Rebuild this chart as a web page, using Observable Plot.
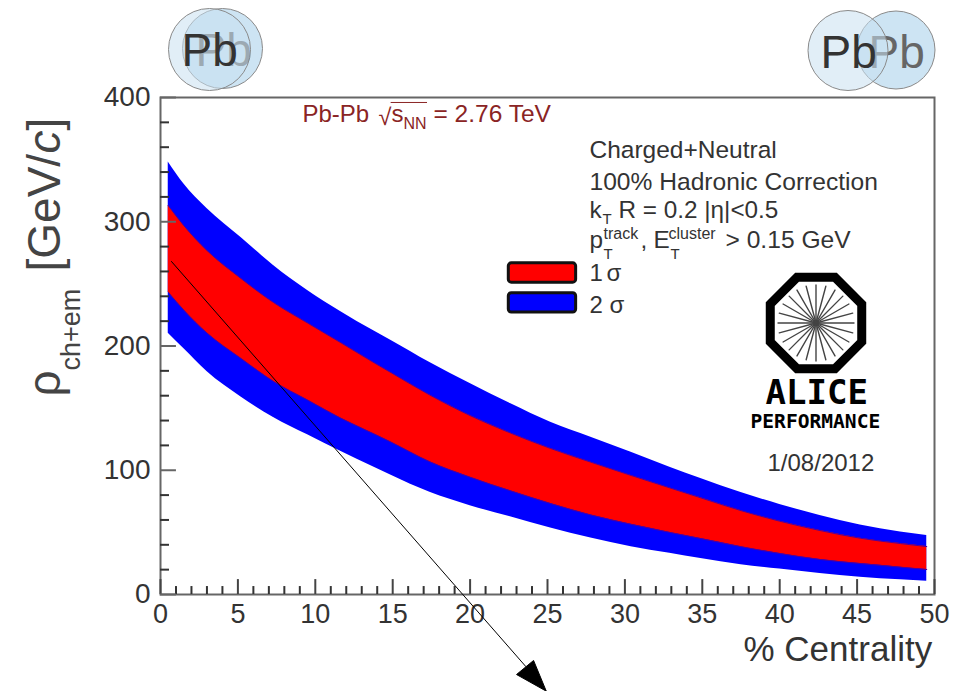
<!DOCTYPE html>
<html>
<head>
<meta charset="utf-8">
<script src="https://cdn.jsdelivr.net/npm/d3@7"></script>
<script src="https://cdn.jsdelivr.net/npm/@observablehq/plot@0.6"></script>
<style>
html,body{margin:0;padding:0;background:#fff;}
svg{display:block;overflow:visible;}
</style>
</head>
<body>
<div id="chart"></div>
<script>
// Centrality (%) and band edges of rho_ch+em (GeV/c)
const centrality = [0.5,1.5,3,5.2,7.3,9.5,11.6,13.8,14.9,17.4,20,22.6,25.2,27.8,30.4,32.9,34.9,37.5,40,42.6,45.2,47.8,49.5];
const sigma2Upper = [348,330.5,310.7,287.3,264.8,244.7,228,212,204.5,186.7,169.8,153.7,138.7,126.6,114.5,102.5,93.4,82,72.5,63.6,56,50.3,47.5];
const sigma1Upper = [313,297,276.9,254.3,235,218.5,203,186.5,178.5,160.5,144,130,117.5,106.5,95.8,85.8,77.8,67.5,59,51.5,45.3,41,38.6];
const sigma1Lower = [243.3,229,210.5,190,171.5,156.5,142.2,129.2,122.6,106.8,94.4,83.5,73.2,64,56.5,50,45,38.5,33,28.2,24.9,22,20.1];
const sigma2Lower = [210.3,198,179.5,159,142.5,128.5,115.5,102.5,96,82.3,71.5,62.5,53.5,45.5,38.5,33.2,29,24,20.5,16.9,13.9,11.8,10.7];

const xMajor = [0,5,10,15,20,25,30,35,40,45,50];
const xMinor = d3.range(0,51).filter(d => d % 5 !== 0);
const yMajor = [0,100,200,300,400];
const yMinor = d3.range(20,400,20).filter(d => d % 100 !== 0);

// Overlaid arrow, in chart units
const arrowX = [0.71,23.6];
const arrowY = [268,-58];
const headX = [24.92,23.0,24.1,24.92];
const headY = [-77.8,-64.4,-53.1,-77.8];

const spokes = d3.range(0,360,15);

const L = 160, T = 97;
const SANS = "Liberation Sans";
function label(s, px, py, size, o = {}) {
  return Plot.text([s], {text: d => d, frameAnchor: "top-left", dx: px - L, dy: py - T,
    lineAnchor: "bottom", textAnchor: "start", fontSize: size, fontFamily: SANS, fill: "#333", ...o});
}
function disc(px, py, r, fill, o = {}) {
  return Plot.dot([0], {frameAnchor: "top-left", dx: px - L, dy: py - T, r, fill, stroke: "#8a8a8a", strokeWidth: 1, ...o});
}
const octagon = {draw(c, size) {
  const r = Math.sqrt(size / Math.PI);
  for (let i = 0; i < 8; i++) {
    const a = Math.PI / 8 + i * Math.PI / 4;
    const x = r * Math.cos(a), y = r * Math.sin(a);
    if (i) c.lineTo(x, y); else c.moveTo(x, y);
  }
  c.closePath();
}};
const spokeShape = {draw(c, l) { c.moveTo(0, 0); c.lineTo(0, -l); }};
const RED = "#8a2424", INK = "#333";
const table = centrality.map((c, i) => ({c, u2: sigma2Upper[i], u1: sigma1Upper[i], l1: sigma1Lower[i], l2: sigma2Lower[i]}));
const CURVE = "monotone-x";

const plot = Plot.plot({
  width: 953, height: 691,
  marginLeft: L, marginRight: 19, marginTop: T, marginBottom: 97,
  style: {background: "#fff", fontFamily: SANS, fontSize: "27px", overflow: "visible"},
  x: {domain: [0, 50], axis: null},
  y: {domain: [0, 400], axis: null},
  marks: [
    // Bands
    Plot.areaY(table, {x: "c", y1: "l2", y2: "u2", fill: "#0000ff", curve: CURVE}),
    Plot.areaY(table, {x: "c", y1: "l1", y2: "u1", fill: "#ff0000", curve: CURVE}),
    Plot.line(table, {x: "c", y: "u1", stroke: "#50009a", strokeWidth: 1, curve: CURVE}),
    Plot.line(table, {x: "c", y: "l1", stroke: "#50009a", strokeWidth: 1, curve: CURVE}),

    // Tick labels
    Plot.axisX({anchor: "bottom", ticks: xMajor, tickSize: 0, tickPadding: 9, label: null, fill: INK, fontSize: 27}),
    Plot.axisY({anchor: "left", ticks: yMajor, tickSize: 0, tickPadding: 10, label: null, fill: INK, fontSize: 28}),
    Plot.frame({stroke: "#666", strokeWidth: 2}),

    // Inward ticks
    Plot.ruleX(xMinor, {y1: 0, y2: 6.4, stroke: "#333", strokeWidth: 2}),
    Plot.ruleX(xMajor, {y1: 0, y2: 12, stroke: "#444", strokeWidth: 2}),
    Plot.ruleY(yMinor, {x1: 0, x2: 0.58, stroke: "#333", strokeWidth: 2}),
    Plot.ruleY(yMajor, {x1: 0, x2: 1.03, stroke: "#666", strokeWidth: 2}),

    // Axis titles
    label("% Centrality", 743, 660, 35, {fill: INK}),
    label("ρ", 59, 396, 46, {rotate: -90, fill: "#444"}),
    label("ch+em", 79, 370, 27, {rotate: -90, fill: "#444"}),
    label("[GeV/", 59, 271, 46, {rotate: -90, fill: "#444"}),
    label("c", 59, 153, 46, {rotate: -90, fill: "#444", fontStyle: "italic"}),
    label("]", 59, 130, 46, {rotate: -90, fill: "#444"}),

    // Collision header
    label("Pb-Pb", 302, 121, 24, {fill: RED}),
    label("√", 378, 124, 23.5, {fill: RED}),
    label("s", 391, 121, 24, {fill: RED}),
    label("NN", 403, 128, 16, {fill: RED}),
    label("= 2.76 TeV", 433, 121, 24.5, {fill: RED}),
    Plot.ruleY([396], {x1: 14.9, x2: 17.25, stroke: RED, strokeWidth: 1}),

    // Notes
    label("Charged+Neutral", 589, 157, 24.5),
    label("100% Hadronic Correction", 589, 189, 24.6),
    label("k", 589, 217, 24.3),
    label("T", 602, 223, 15),
    label("R = 0.2 |η|<0.5", 618, 217, 24.3),
    label("p", 589, 247, 24.3),
    label("track", 603, 238, 16),
    label("T", 603, 258, 15),
    label(",", 640, 247, 24.3),
    label("E", 653, 247, 24.3),
    label("cluster", 668, 238, 16),
    label("T", 670, 258, 15),
    label("> 0.15 GeV", 725, 247, 24.6),

    // Legend
    Plot.rect([0], {x1: () => 22.5, x2: () => 26.85, y1: () => 251, y2: () => 266.5, fill: "#ff0000", stroke: "#111", strokeWidth: 3, rx: 3}),
    Plot.rect([0], {x1: () => 22.5, x2: () => 26.85, y1: () => 227, y2: () => 242.5, fill: "#0000ff", stroke: "#111", strokeWidth: 3, rx: 3}),
    label("1", 589, 280, 24),
    label("σ", 606, 280, 24),
    label("2", 589, 312, 24),
    label("σ", 609, 312, 24),

    // ALICE logo
    Plot.dot([0], {frameAnchor: "top-left", dx: 815.5 - L, dy: 322.5 - T, r: 49.5, symbol: octagon, fill: "none", stroke: "#000", strokeWidth: 9, strokeLinejoin: "miter"}),
    Plot.vector(spokes, {frameAnchor: "top-left", dx: 815.5 - L, dy: 322.5 - T, rotate: d => d, length: 38, anchor: "start", shape: spokeShape, stroke: "#444", strokeWidth: 1.4}),
    label("ALICE", 765, 403, 34, {fill: "#000", fontFamily: "DejaVu Sans Mono", fontWeight: "bold"}),
    label("PERFORMANCE", 750, 427, 19.6, {fill: "#000", fontFamily: "DejaVu Sans Mono", fontWeight: "bold"}),
    label("1/08/2012", 767, 470, 24),

    // Overlaid arrow
    Plot.line(arrowX.map((x, i) => [x, arrowY[i]]), {x: d => d[0], y: d => d[1], stroke: "#000", strokeWidth: 1}),
    Plot.line(headX.map((x, i) => [x, headY[i]]), {x: d => d[0], y: d => d[1], stroke: "#000", strokeWidth: 1, fill: "#000"}),

    // Nuclei, central collision
    disc(222, 48, 40, "#cde4f3"),
    label("Pb", 195, 65, 46, {fill: "#666"}),
    disc(209, 49, 41, "#c8e0f1", {fillOpacity: 0.55}),
    label("Pb", 181, 65, 46, {fill: "#333"}),

    // Nuclei, peripheral collision
    disc(895.5, 49.5, 39, "#cde4f3"),
    label("Pb", 868, 67, 46, {fill: "#666"}),
    disc(847.5, 50, 40, "#c8e0f1", {fillOpacity: 0.55}),
    label("Pb", 820, 67, 46, {fill: "#333"})
  ]
});
document.getElementById("chart").append(plot);
</script>
</body>
</html>
